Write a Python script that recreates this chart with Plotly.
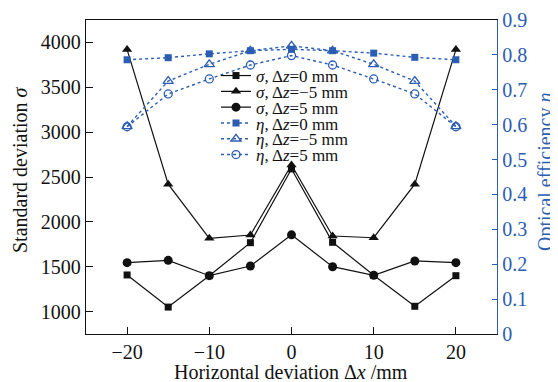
import plotly.graph_objects as go

x = [-20, -15, -10, -5, 0, 5, 10, 15, 20]
sigma_dz0 = [1408, 1050, 1400, 1768, 2590, 1772, 1404, 1059, 1400]
sigma_dzm5 = [3920, 2420, 1817, 1853, 2635, 1842, 1823, 2420, 3920]
sigma_dz5 = [1545, 1571, 1400, 1508, 1855, 1500, 1404, 1564, 1545]
eta_dz0 = [0.786, 0.792, 0.803, 0.812, 0.816, 0.812, 0.805, 0.793, 0.786]
eta_dzm5 = [0.595, 0.725, 0.773, 0.812, 0.826, 0.812, 0.773, 0.725, 0.595]
eta_dz5 = [0.594, 0.688, 0.731, 0.771, 0.798, 0.771, 0.731, 0.688, 0.594]

names = ["<i>σ</i>, Δ<i>z</i>=0 mm", "<i>σ</i>, Δ<i>z</i>=−5 mm", "<i>σ</i>, Δ<i>z</i>=5 mm",
         "<i>η</i>, Δ<i>z</i>=0 mm", "<i>η</i>, Δ<i>z</i>=−5 mm", "<i>η</i>, Δ<i>z</i>=5 mm"]
x_title = "Horizontal deviation Δ<i>x</i> /mm"
y_title = "Standard deviation <i>σ</i>"
y2_title = "Optical efficiency <i>η</i>"

BLACK = "#111111"
BLUE = "#2b5db3"
FONT = "Liberation Serif"

# the page body has an 8px default margin; size the figure so that it fits the window
OFF = 8
W, H = 558 - OFF, 382 - OFF
# plot area in window pixels: left 86, right 497, top 20, bottom 334
ML, MT = 86 - OFF, 20 - OFF
MR, MB = (558 - OFF) - (497 - OFF), (382 - OFF) - (334 - OFF)
PW = W - ML - MR
PH = H - MT - MB

fig = go.Figure()
legend_ids = ["legend", "legend2", "legend3", "legend4", "legend5", "legend6"]

fig.add_trace(go.Scatter(x=x, y=sigma_dz0, name=names[0], mode="lines+markers", legend=legend_ids[0],
                         line=dict(color=BLACK, width=1.2),
                         marker=dict(symbol="square", size=7, color=BLACK)))
fig.add_trace(go.Scatter(x=x, y=sigma_dzm5, name=names[1], mode="lines+markers", legend=legend_ids[1],
                         line=dict(color=BLACK, width=1.2),
                         marker=dict(symbol="triangle-up", size=9, color=BLACK)))
fig.add_trace(go.Scatter(x=x, y=sigma_dz5, name=names[2], mode="lines+markers", legend=legend_ids[2],
                         line=dict(color=BLACK, width=1.2),
                         marker=dict(symbol="circle", size=9, color=BLACK)))
fig.add_trace(go.Scatter(x=x, y=eta_dz0, name=names[3], mode="lines+markers", yaxis="y2", legend=legend_ids[3],
                         line=dict(color=BLUE, width=1.4, dash="dot"),
                         marker=dict(symbol="square", size=7, color=BLUE)))
fig.add_trace(go.Scatter(x=x, y=eta_dzm5, name=names[4], mode="lines+markers", yaxis="y2", legend=legend_ids[4],
                         line=dict(color=BLUE, width=1.4, dash="dot"),
                         marker=dict(symbol="triangle-up-open", size=9, color=BLUE,
                                     line=dict(width=1.3, color=BLUE))))
fig.add_trace(go.Scatter(x=x, y=eta_dz5, name=names[5], mode="lines+markers", yaxis="y2", legend=legend_ids[5],
                         line=dict(color=BLUE, width=1.4, dash="dot"),
                         marker=dict(symbol="circle-open", size=8, color=BLUE,
                                     line=dict(width=1.3, color=BLUE))))


def px_x(p):
    # p: window pixel x -> paper coordinate
    return (p - OFF - ML) / PW


def px_y(p):
    # p: window pixel y -> paper coordinate
    return (MT + PH - (p - OFF)) / PH


# legend row centres (window pixels from top)
row_px = [76.0, 91.8, 107.6, 123.4, 139.2, 155.0]
legend_layout = {}
for lid, r in zip(legend_ids, row_px):
    legend_layout[lid] = dict(x=px_x(216), y=px_y(r),
                              xanchor="left", yanchor="middle",
                              bgcolor="rgba(0,0,0,0)", borderwidth=0,
                              font=dict(size=17, family=FONT, color=BLACK),
                              itemwidth=30)

annotations = [
    dict(text=x_title, xref="paper", yref="paper", x=px_x(291), y=px_y(372),
         xanchor="center", yanchor="middle", showarrow=False,
         font=dict(size=20, family=FONT, color=BLACK)),
    dict(text=y_title, xref="paper", yref="paper", x=px_x(20), y=px_y(170),
         xanchor="center", yanchor="middle", showarrow=False, textangle=-90,
         font=dict(size=20, family=FONT, color=BLACK)),
    dict(text=y2_title, xref="paper", yref="paper", x=px_x(545), y=px_y(172),
         xanchor="center", yanchor="middle", showarrow=False, textangle=-90,
         font=dict(size=20, family=FONT, color=BLUE)),
]

fig.update_layout(
    width=W, height=H,
    margin=dict(l=ML, r=MR, t=MT, b=MB, autoexpand=False),
    paper_bgcolor="white", plot_bgcolor="white",
    font=dict(family=FONT, size=20, color=BLACK),
    showlegend=True,
    annotations=annotations,
    **legend_layout,
    xaxis=dict(range=[-25, 25], tickvals=[-20, -10, 0, 10, 20], automargin=False,
               ticks="inside", ticklen=7, tickcolor=BLACK, showgrid=False, zeroline=False,
               showline=True, linecolor=BLACK, linewidth=1.3, mirror=True,
               tickfont=dict(size=20)),
    yaxis=dict(range=[750, 4250], tickvals=[1000, 1500, 2000, 2500, 3000, 3500, 4000],
               automargin=False,
               ticks="inside", ticklen=7, tickcolor=BLACK, showgrid=False, zeroline=False,
               showline=True, linecolor=BLACK, linewidth=1.3,
               tickfont=dict(size=20)),
    yaxis2=dict(range=[0, 0.9], tickvals=[0, 0.1, 0.2, 0.3, 0.4, 0.5, 0.6, 0.7, 0.8, 0.9],
                ticktext=["0", "0.1", "0.2", "0.3", "0.4", "0.5", "0.6", "0.7", "0.8", "0.9"],
                overlaying="y", side="right", anchor="x", automargin=False,
                ticks="inside", ticklen=5, tickcolor=BLUE, showgrid=False, zeroline=False,
                showline=True, linecolor=BLUE, linewidth=1.3,
                tickfont=dict(size=20, color=BLUE)),
)

fig.write_html("out.html")
